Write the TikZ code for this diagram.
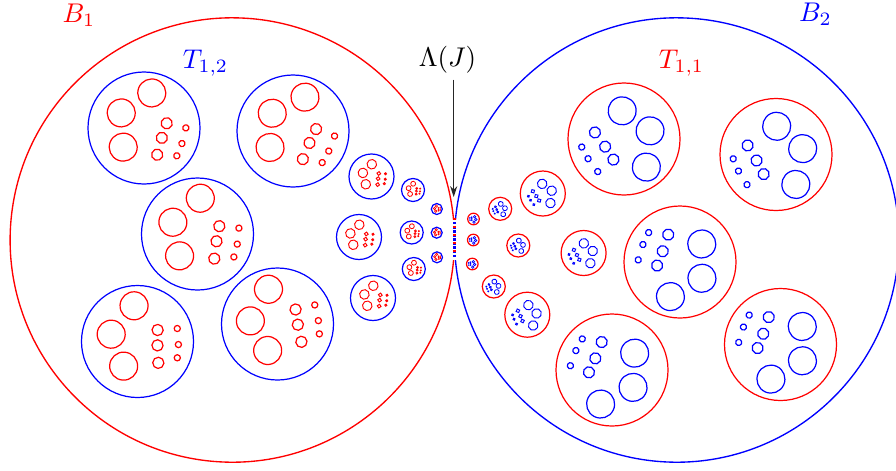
\documentclass[tikz,border=0pt]{standalone}
\usepackage{amsmath,amssymb}
\usepackage{tikz}
\usetikzlibrary{arrows.meta}
% one template cluster: 3 large, 3 middle, 3 small discs, small ones towards angle 0
\newcommand{\tcluster}[6]{\begin{scope}[shift={(#1,#2)},yscale=-1,rotate={-(#4)},scale=#3,#5,line width=#6]
  \foreach \px/\py/\pr in {-0.095/0.634/0.25,-0.476/0.106/0.25,-0.224/-0.452/0.25,
    0.348/0.224/0.1,0.36/-0.05/0.1,0.391/-0.361/0.1,
    0.697/0.269/0.055,0.732/-0.016/0.055,0.725/-0.253/0.055}
    \draw (\px,\py) circle[radius=\pr];
  \end{scope}}
% ring with its cluster: x, y, radius, turn, ring colour, inner colour, shrink, inner width
\newcommand{\cell}[8]{\draw[#5] (#1,#2) circle[radius=#3];
  \pgfmathsetmacro{\cellk}{#3*#7}\tcluster{#1}{#2}{\cellk}{#4}{#6}{#8}}
\tikzset{outer/.style={line width=0.5pt}, lbl/.style={font=\normalsize}}

\begin{document}
\begin{tikzpicture}[x=0.013cm,y=-0.013cm,line width=0.45pt]
\useasboundingbox (0,0) rectangle (896,470);
\coordinate (B1c) at (232.3,240); \coordinate (B2c) at (676.7,240);
\coordinate (dotT) at (454.5,218); \coordinate (dotB) at (454.5,258);
\draw[outer,red] (B1c) ++(5.2:222.2) arc[start angle=5.2,end angle=354.8,radius=222.2];
\draw[outer,blue] (B2c) ++(-174.8:222.2) arc[start angle=-174.8,end angle=174.8,radius=222.2];
\draw[blue,line width=0.8pt,dash pattern=on 0.9pt off 0.6pt] (dotT) -- (dotB);
\draw[red,line width=0.8pt,dash pattern=on 0.6pt off 2.4pt] (dotT) -- (dotB);
% B_1 side
\cell{144}{128}{56}{-21}{blue}{red}{1}{0.45pt}
\cell{293}{131}{56}{-28}{blue}{red}{1}{0.45pt}
\cell{197.5}{234}{56}{-13}{blue}{red}{1}{0.45pt}
\cell{137.5}{341.5}{56}{-3}{blue}{red}{1}{0.45pt}
\cell{277.5}{324}{56}{6}{blue}{red}{1}{0.45pt}
\cell{371.5}{176.5}{22.5}{-10}{blue}{red}{0.85}{0.35pt}
\cell{359}{237}{22.5}{-10}{blue}{red}{0.85}{0.35pt}
\cell{373}{298}{22.5}{-10}{blue}{red}{0.85}{0.35pt}
\cell{413}{190}{11.5}{-10}{blue}{red}{0.85}{0.3pt}
\cell{411.7}{232.5}{11.5}{-10}{blue}{red}{0.85}{0.3pt}
\cell{413.8}{269}{11.5}{-10}{blue}{red}{0.85}{0.3pt}
\cell{436.8}{209}{5.5}{0}{blue}{red}{0.85}{0.25pt}
\cell{436.7}{232.7}{5.5}{0}{blue}{red}{0.85}{0.25pt}
\cell{437}{257.3}{5.5}{0}{blue}{red}{0.85}{0.25pt}
% B_2 side
\cell{624}{139}{56}{210}{red}{blue}{1}{0.45pt}
\cell{776}{154.5}{56}{205}{red}{blue}{1}{0.45pt}
\cell{680}{262}{56}{156}{red}{blue}{1}{0.45pt}
\cell{612}{370}{56}{153}{red}{blue}{1}{0.45pt}
\cell{780.5}{344.5}{56}{156}{red}{blue}{1}{0.45pt}
\cell{542.8}{193.5}{22.5}{210}{red}{blue}{0.85}{0.35pt}
\cell{583.6}{253}{22.5}{205}{red}{blue}{0.85}{0.35pt}
\cell{527.3}{314.7}{22.5}{200}{red}{blue}{0.85}{0.35pt}
\cell{500.2}{208.8}{11.5}{200}{red}{blue}{0.85}{0.3pt}
\cell{518.3}{245.5}{11.5}{200}{red}{blue}{0.85}{0.3pt}
\cell{493.8}{286.5}{11.5}{200}{red}{blue}{0.85}{0.3pt}
\cell{473.5}{219}{5.8}{180}{red}{blue}{0.85}{0.25pt}
\cell{473.3}{240}{5.8}{180}{red}{blue}{0.85}{0.25pt}
\cell{472.3}{264}{5.8}{180}{red}{blue}{0.85}{0.25pt}
% labels
\node[lbl,red] (b1) at (79,15) {$B_1$};
\node[lbl,blue] (t12) at (205.5,63) {$T_{1,2}$};
\node[lbl,inner sep=2pt] (lam) at (447.5,60) {$\Lambda(J)$};
\node[lbl,red] (t11) at (681.5,63.5) {$T_{1,1}$};
\node[lbl,blue] (b2) at (815.5,14) {$B_2$};
\coordinate (lamtip) at (453.7,197);
\draw[black!85,line width=0.5pt,-{Stealth[length=4pt,width=2.6pt]}] (lam.south -| lamtip) -- (lamtip);
\end{tikzpicture}
\end{document}
